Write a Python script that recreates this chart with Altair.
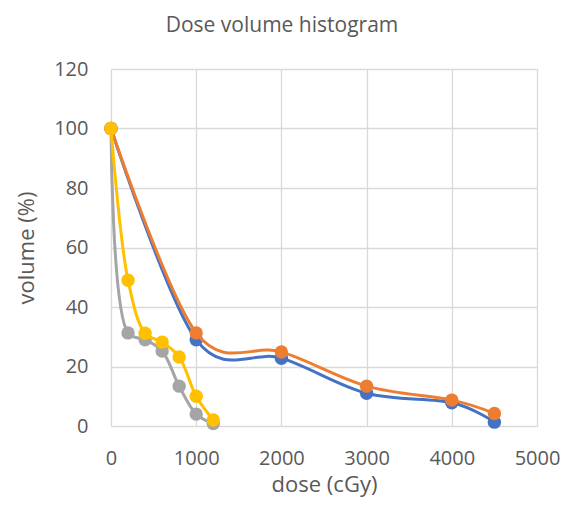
import altair as alt
import pandas as pd

series_names = ["Series1", "Series2", "Series3", "Series4"]
colors = ["#4472C4", "#ED7D31", "#A5A5A5", "#FFC000"]
# smoothing per series (Excel-like smoothed lines)
curves = ["cardinal", "cardinal", "catmull-rom", "catmull-rom"]

dose_a = [0, 1000, 2000, 3000, 4000, 4500]
vol_blue = [100, 29, 22.8, 11, 7.8, 1.3]
vol_orange = [100, 31.3, 24.9, 13.4, 8.7, 4.2]

dose_b = [0, 200, 400, 600, 800, 1000, 1200]
vol_gray = [100, 31.3, 29, 25.2, 13.4, 4, 0.8]
vol_yellow = [100, 49, 31.2, 28.2, 23.2, 10, 2]

x_ticks = [0, 1000, 2000, 3000, 4000, 5000]
y_ticks = [0, 20, 40, 60, 80, 100, 120]

data = [
    (dose_a, vol_blue),
    (dose_a, vol_orange),
    (dose_b, vol_gray),
    (dose_b, vol_yellow),
]

FONT = "Open Sans"
TXT = "#595959"

xscale = alt.Scale(domain=[0, 5000], nice=False)
yscale = alt.Scale(domain=[0, 120], nice=False)

layers = []
for name, color, curve, (xs, ys) in zip(series_names, colors, curves, data):
    df = pd.DataFrame({"dose": xs, "volume": ys, "series": name})
    base = alt.Chart(df).encode(
        x=alt.X("dose:Q", scale=xscale,
                axis=alt.Axis(values=x_ticks, format="d", title="dose (cGy)")),
        y=alt.Y("volume:Q", scale=yscale,
                axis=alt.Axis(values=y_ticks, format="d", title="volume (%)")),
    )
    if curve == "cardinal":
        line = base.mark_line(color=color, strokeWidth=3, interpolate="cardinal", tension=0)
    else:
        line = base.mark_line(color=color, strokeWidth=3, interpolate=curve)
    pts = base.mark_circle(color=color, size=180, opacity=1)
    layers += [line, pts]

chart = alt.layer(*layers).properties(
    width=426,
    height=357,
    title=alt.TitleParams("Dose volume histogram", font=FONT, fontSize=21,
                          fontWeight="normal", color=TXT, offset=23, dx=-42),
    autosize=alt.AutoSizeParams(type="none"),
    padding={"left": 103, "top": 61, "right": 26, "bottom": 72},
).configure_view(stroke=None).configure_axis(
    grid=True,
    gridColor="#D9D9D9",
    gridWidth=1.3,
    domain=False,
    ticks=False,
    labelFont=FONT,
    labelFontSize=20,
    labelColor=TXT,
    labelFlush=False,
    titleFont=FONT,
    titleFontSize=22,
    titleFontWeight="normal",
    titleColor=TXT,
).configure_axisX(labelPadding=22, titlePadding=6).configure_axisY(labelPadding=23, titlePadding=15)

chart.save("out.html", embed_options={"renderer": "svg", "actions": False})
